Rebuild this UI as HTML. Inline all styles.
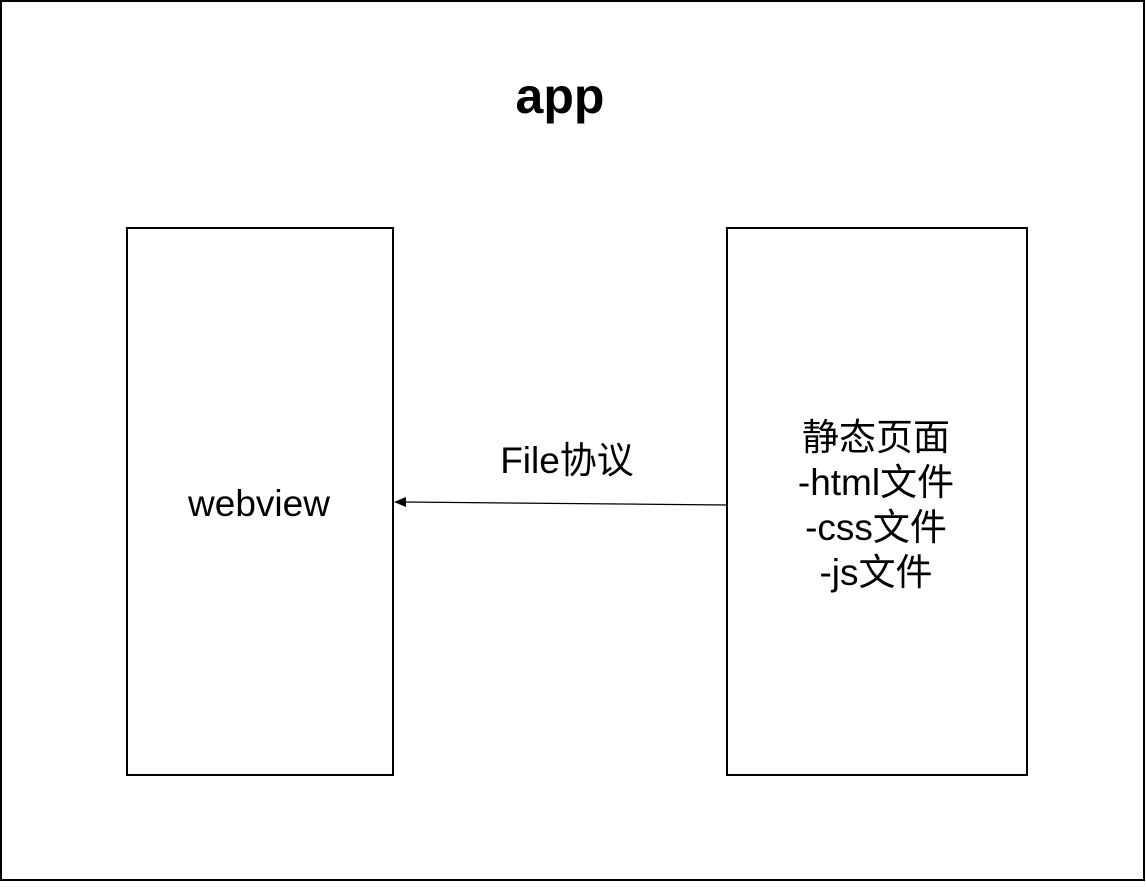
<!DOCTYPE html>
<html><head><meta charset="utf-8"><style>
body{margin:0;background:#fff;}
svg text{font-family:"Liberation Sans","Noto Sans CJK SC",sans-serif;fill:#000;}
</style></head><body>
<svg width="1146" height="882" viewBox="0 0 1146 882" xmlns="http://www.w3.org/2000/svg">
<rect x="1" y="1" width="1143" height="879" fill="#fff" stroke="#000" stroke-width="2"/>
<text x="560" y="113" font-size="50" font-weight="bold" text-anchor="middle">app</text>
<rect x="127" y="228" width="266" height="547" fill="#fff" stroke="#000" stroke-width="2"/>
<rect x="727" y="228" width="300" height="547" fill="#fff" stroke="#000" stroke-width="2"/>
<text x="259" y="516" font-size="37" text-anchor="middle">webview</text>
<line x1="727" y1="505" x2="404" y2="502" stroke="#000" stroke-width="1.3"/>
<polygon points="394,502 406,497 406,507" fill="#000"/>
<text x="567" y="473" font-size="37" text-anchor="middle">File协议</text>
<text x="876" y="450" font-size="37" text-anchor="middle">静态页面</text>
<text x="876" y="495" font-size="37" text-anchor="middle">-html文件</text>
<text x="876" y="540" font-size="37" text-anchor="middle">-css文件</text>
<text x="876" y="585" font-size="37" text-anchor="middle">-js文件</text>
</svg>
</body></html>
